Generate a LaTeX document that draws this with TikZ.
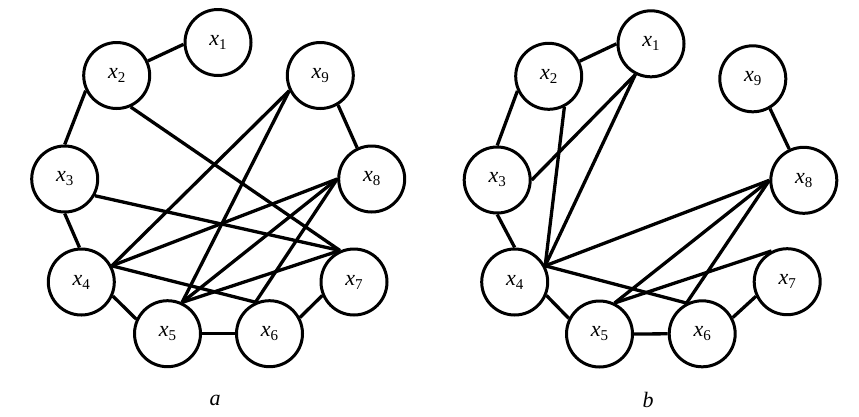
\documentclass[tikz,border=0pt]{standalone}
\usepackage{fontspec}
\setmainfont{Liberation Serif}
\newcommand{\xv}[1]{{\fontsize{22}{22}\selectfont\itshape x}\raisebox{-4pt}{\fontsize{15}{15}\selectfont #1}}
\tikzset{
  vtx/.style={circle, draw, line width=3pt, minimum size=66pt, inner sep=0pt},
  edge/.style={line width=3.3pt},
  captext/.style={font=\fontsize{22}{22}\selectfont\itshape}
}
\begin{document}
\begin{tikzpicture}[x=1pt,y=-1pt]
\useasboundingbox (0,0) rectangle (859,416);
% graph a
\node[vtx] (a1) at (218,42.5) {\xv{1}};
\node[vtx] (a2) at (116.7,75.5) {\xv{2}};
\node[vtx] (a9) at (320.3,75.5) {\xv{9}};
\node[vtx] (a3) at (64.7,179) {\xv{3}};
\node[vtx] (a8) at (371.7,179) {\xv{8}};
\node[vtx] (a4) at (81.3,282) {\xv{4}};
\node[vtx] (a7) at (354,282) {\xv{7}};
\node[vtx] (a5) at (167.5,333.7) {\xv{5}};
\node[vtx] (a6) at (269.5,333.7) {\xv{6}};
\node[captext] (la) at (215,400) {a};
\draw[edge] (a1.183) -- (a2.25);
\draw[edge] (a2.206) -- (a3.90);
\draw[edge] (a3.270) -- (a4.93);
\draw[edge] (a4.-24) -- (a5.155);
\draw[edge] (a5.0) -- (a6.180);
\draw[edge] (a6.28) -- (a7.203);
\draw[edge] (a9.301) -- (a8.115);
\draw[edge] (a2.294) -- (a7.114);
\draw[edge] (a3.331) -- (a7.114);
\draw[edge] (a9.206) -- (a4.28);
\draw[edge] (a9.206) -- (a5.65);
\draw[edge] (a8.180) -- (a4.28);
\draw[edge] (a8.180) -- (a5.65);
\draw[edge] (a8.180) -- (a6.114);
\draw[edge] (a4.28) -- (a6.114);
\draw[edge] (a5.65) -- (a7.114);
% graph b
\node[vtx] (b1) at (651,43.8) {\xv{1}};
\node[vtx] (b2) at (548.7,76.3) {\xv{2}};
\node[vtx] (b9) at (752.8,78.8) {\xv{9}};
\node[vtx] (b3) at (497.2,180) {\xv{3}};
\node[vtx] (b8) at (803.8,180.3) {\xv{8}};
\node[vtx] (b4) at (514.7,282) {\xv{4}};
\node[vtx] (b7) at (787.2,281.7) {\xv{7}};
\node[vtx] (b5) at (599.5,334) {\xv{5}};
\node[vtx] (b6) at (702.2,333.8) {\xv{6}};
\node[captext] (lb) at (648,400) {b};
\draw[edge] (b1.180) -- (b2.26);
\draw[edge] (b2.205) -- (b3.90);
\draw[edge] (b3.270) -- (b4.90);
\draw[edge] (b4.-23) -- (b5.153);
\draw[edge] (b5.0) -- (b6.180);
\draw[edge] (b6.28) -- (b7.205);
\draw[edge] (b9.300) -- (b8.115);
\draw[edge] (b1.243) -- (b3.0);
\draw[edge] (b1.243) -- (b4.28);
\draw[edge] (b2.297) -- (b4.28);
\draw[edge] (b8.180) -- (b4.28);
\draw[edge] (b8.180) -- (b5.64);
\draw[edge] (b8.180) -- (b6.117);
\draw[edge] (b4.28) -- (b6.117);
\draw[edge] (b5.64) -- (b7.117);
\end{tikzpicture}
\end{document}
